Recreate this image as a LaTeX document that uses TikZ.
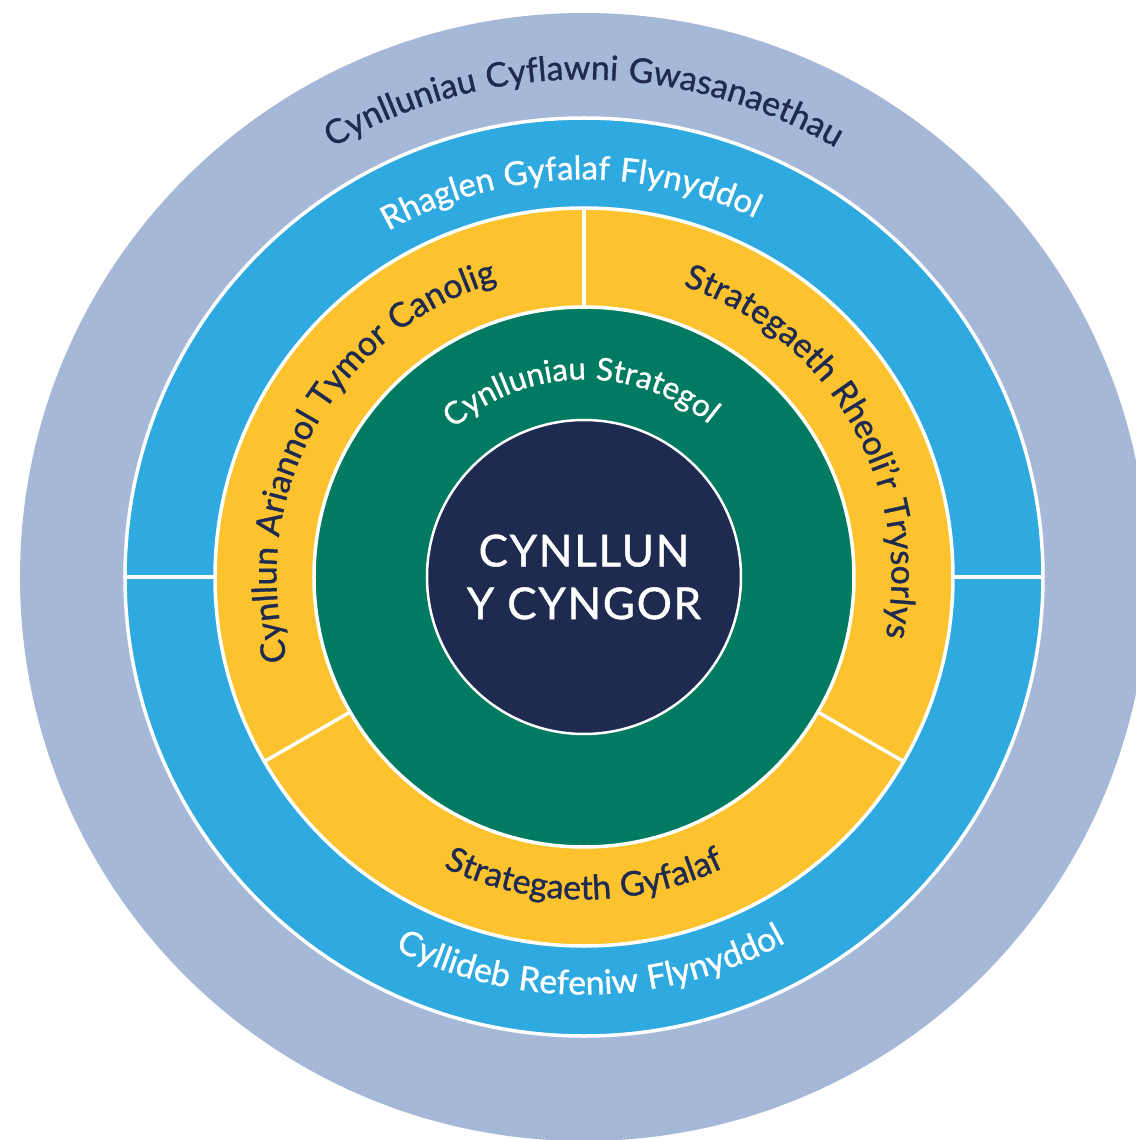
\documentclass[tikz,border=0pt]{standalone}
\usepackage{fontspec}
\setmainfont{Lato}[LetterSpace=4, FakeBold=1]
\usetikzlibrary{decorations.text}
\definecolor{ringgrey}{HTML}{A6B8D7}
\definecolor{ringblue}{HTML}{2EAAE1}
\definecolor{ringyellow}{HTML}{FCC32E}
\definecolor{ringgreen}{HTML}{007A60}
\definecolor{ringnavy}{HTML}{1F2A50}
% label along an arc: colour, size, radius, start, end, text
\newcommand{\arcLabel}[6]
{
	\path[decorate, decoration={text along path, text align=center, text color=#1,
		text={|\fontsize{#2}{#2}\selectfont|#6}}] (#4:#3) arc[start angle=#4, end angle=#5, radius=#3];
}

\begin{document}
\begin{tikzpicture}[
			ring/.style={draw=white, line width=0.07cm},
			divider/.style={draw=white, line width=0.07cm},
			core/.style={text=white, align=center, font=\fontsize{25}{30}\selectfont}]
	\useasboundingbox (-11.68,-11.26) rectangle (11.04,11.54);
	\clip (-11.68,-11.26) rectangle (11.04,11.54);

	\fill[ringgrey] (0,0) circle (11.28);
	\path[ring, fill=ringblue] (0,0) circle (9.18);
	\path[ring, fill=ringyellow] (0,0) circle (7.38);
	\path[ring, fill=ringgreen] (0,0) circle (5.40);
	\path[ring, fill=ringnavy, line width=0.05cm] (0,0) circle (3.14);

	% dividers
	\foreach \a in {0,180}
		\draw[divider] (\a:7.38) -- (\a:9.18);
	\foreach \a in {90,210,330}
		\draw[divider] (\a:5.40) -- (\a:7.38);

	\node[core] (plan) at (0,0) {CYNLLUN\\Y CYNGOR};

	\arcLabel{ringnavy}{19.3}{9.95}{170}{10}{Cynlluniau Cyflawni Gwasanaethau};
	\arcLabel{white}{18.7}{7.95}{172}{12}{Rhaglen Gyfalaf Flynyddol};
	\arcLabel{white}{19.2}{8.35}{191}{351}{Cyllideb Refeniw Flynyddol};
	\arcLabel{ringnavy}{19.4}{6.15}{231}{71}{Cynllun Ariannol Tymor Canolig};
	\arcLabel{ringnavy}{19.3}{6.15}{110}{-50}{Strategaeth Rheoli'r Trysorlys};
	\arcLabel{ringnavy}{19.3}{6.45}{190}{350}{Strategaeth Gyfalaf};
	\arcLabel{white}{17.8}{3.95}{171}{11}{Cynlluniau Strategol};
\end{tikzpicture}
\end{document}
